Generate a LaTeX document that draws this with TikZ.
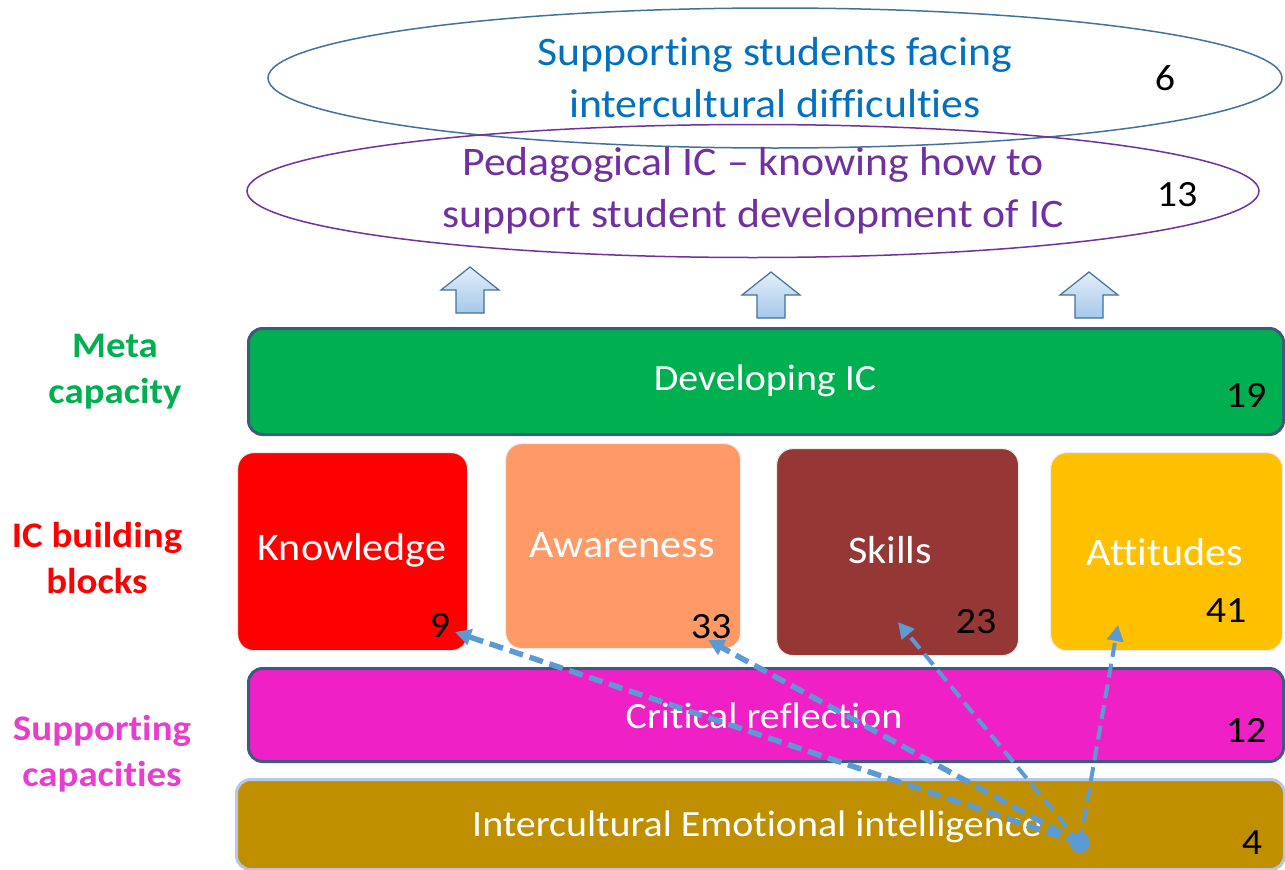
\documentclass[tikz,border=0pt]{standalone}
\usepackage{fontspec}
\setmainfont{Carlito}[FakeStretch=1.08,Ligatures=NoCommon]
\usetikzlibrary{arrows.meta,shapes.geometric}
\definecolor{ellblue}{HTML}{41719C}
\definecolor{txtblue}{HTML}{0070C0}
\definecolor{purp}{HTML}{7030A0}
\definecolor{grn}{HTML}{00B050}
\definecolor{bordr}{HTML}{3E5A80}
\definecolor{knw}{HTML}{FF0000}
\definecolor{awr}{HTML}{FF9966}
\definecolor{skl}{HTML}{953735}
\definecolor{att}{HTML}{FFC000}
\definecolor{crit}{HTML}{EE20C6}
\definecolor{eiq}{HTML}{BF8F00}
\definecolor{eiborder}{HTML}{B4C7E7}
\definecolor{dotblue}{HTML}{5B9BD5}
\definecolor{arrlight}{HTML}{E3EEF9}
\definecolor{arrdark}{HTML}{A5C8EA}
\definecolor{mag}{HTML}{E83ECD}
\tikzset{
  ellbox/.style={ellipse, draw, line width=1.5pt, inner sep=0pt},
  bigtxt/.style={font=\fontsize{40.5}{52}\selectfont, align=center},
  bartxt/.style={font=\fontsize{37}{40}\selectfont, text=white},
  boxtxt/.style={font=\fontsize{39}{40}\selectfont, text=white},
  numtxt/.style={font=\fontsize{37}{40}\selectfont, text=black},
  sidetxt/.style={font=\bfseries\fontsize{36}{46}\selectfont, align=center},
  bar/.style={rounded corners=14pt, draw=bordr, line width=3pt},
  block/.style={rounded corners=16pt, draw=white!85!gray, line width=1.2pt},
  uparrow/.style={draw=ellblue, line width=1.2pt, top color=arrlight, bottom color=arrdark},
  dasharrow/.style={draw=dotblue, dash pattern=on 14pt off 7pt, -{Triangle[length=16pt,width=16pt]}},
}
\begin{document}
\begin{tikzpicture}[x=1pt,y=-1pt]
\useasboundingbox (0,0) rectangle (1285,870);
% ellipses
\node[ellbox, draw=ellblue, minimum width=1014pt, minimum height=140pt] (e1) at (775,78) {};
\node[bigtxt, text=txtblue] (e1t) at (775,78) {Supporting students facing\\intercultural difficulties};
\node[numtxt] (n6) at (1165,78) {6};
\node[ellbox, draw=purp, minimum width=1012pt, minimum height=133pt] (e2) at (753,191) {};
\node[bigtxt, text=purp] (e2t) at (753,191) {Pedagogical IC – knowing how to\\support student development of IC};
\node[numtxt] (n13) at (1177,195) {13};
% up arrows
\foreach \cx/\ty [count=\i] in {470/267,771/272,1089/272}{
  \path[uparrow] (\cx,\ty) -- (\cx+29,\ty+23) -- (\cx+14,\ty+23) -- (\cx+14,\ty+46)
     -- (\cx-14,\ty+46) -- (\cx-14,\ty+23) -- (\cx-29,\ty+23) -- cycle;
}
% green bar
\node[bar, fill=grn, minimum width=1035pt, minimum height=106pt, anchor=north west] (dev) at (247,327) {};
\node[bartxt] (devt) at (765,381) {Developing IC};
\node[numtxt] (n19) at (1246,395) {19};
% building blocks
\node[block, fill=knw, minimum width=230pt, minimum height=198pt, anchor=north west] (know) at (237,452) {};
\node[boxtxt] (knowt) at (352,550) {Knowledge};
\node[numtxt] (n9) at (440,625) {9};
\node[block, fill=awr, minimum width=235pt, minimum height=205pt, anchor=north west] (awar) at (505,443) {};
\node[boxtxt] (awart) at (622,545) {Awareness};
\node[numtxt] (n33) at (711,627) {33};
\node[block, fill=skl, minimum width=242pt, minimum height=207pt, anchor=north west] (skil) at (776,448) {};
\node[boxtxt] (skilt) at (890,550) {Skills};
\node[numtxt] (n23) at (976,622) {23};
\node[block, fill=att, minimum width=232pt, minimum height=198pt, anchor=north west] (atti) at (1050,452) {};
\node[boxtxt] (attit) at (1165,552) {Attitudes};
\node[numtxt] (n41) at (1226,611) {41};
% supporting bars
\node[bar, fill=crit, minimum width=1035pt, minimum height=93pt, anchor=north west] (crit) at (247,667) {};
\node[bartxt] (critt) at (764,716) {Critical reflection};
\node[numtxt] (n12) at (1246,730) {12};
\node[bar, draw=eiborder, fill=eiq, minimum width=1048pt, minimum height=90pt, anchor=north west] (ei) at (235,778) {};
\node[bartxt] (eit) at (757,827) {Intercultural Emotional intelligence};
\node[numtxt] (n4) at (1252,843) {4};
% side labels
\node[sidetxt, text=grn] (lmeta) at (115,372) {Meta\\capacity};
\node[sidetxt, text=knw] (lic) at (97,558) {IC building\\blocks};
\node[sidetxt, text=mag] (lsup) at (102,754) {Supporting\\capacities};
% dot and dashed arrows
\node[circle, fill=dotblue, minimum size=20pt, inner sep=0pt] (dot) at (1080,843) {};
\coordinate (tk) at (455,632);
\coordinate (ta) at (708,640);
\coordinate (ts) at (898,622);
\coordinate (tt) at (1118,625);
\draw[dasharrow, line width=5.5pt] (dot.center) -- (tk);
\draw[dasharrow, line width=5.5pt] (dot.center) -- (ta);
\draw[dasharrow, line width=4pt] (dot.center) -- (ts);
\draw[dasharrow, line width=4pt] (dot.center) -- (tt);
\end{tikzpicture}
\end{document}
